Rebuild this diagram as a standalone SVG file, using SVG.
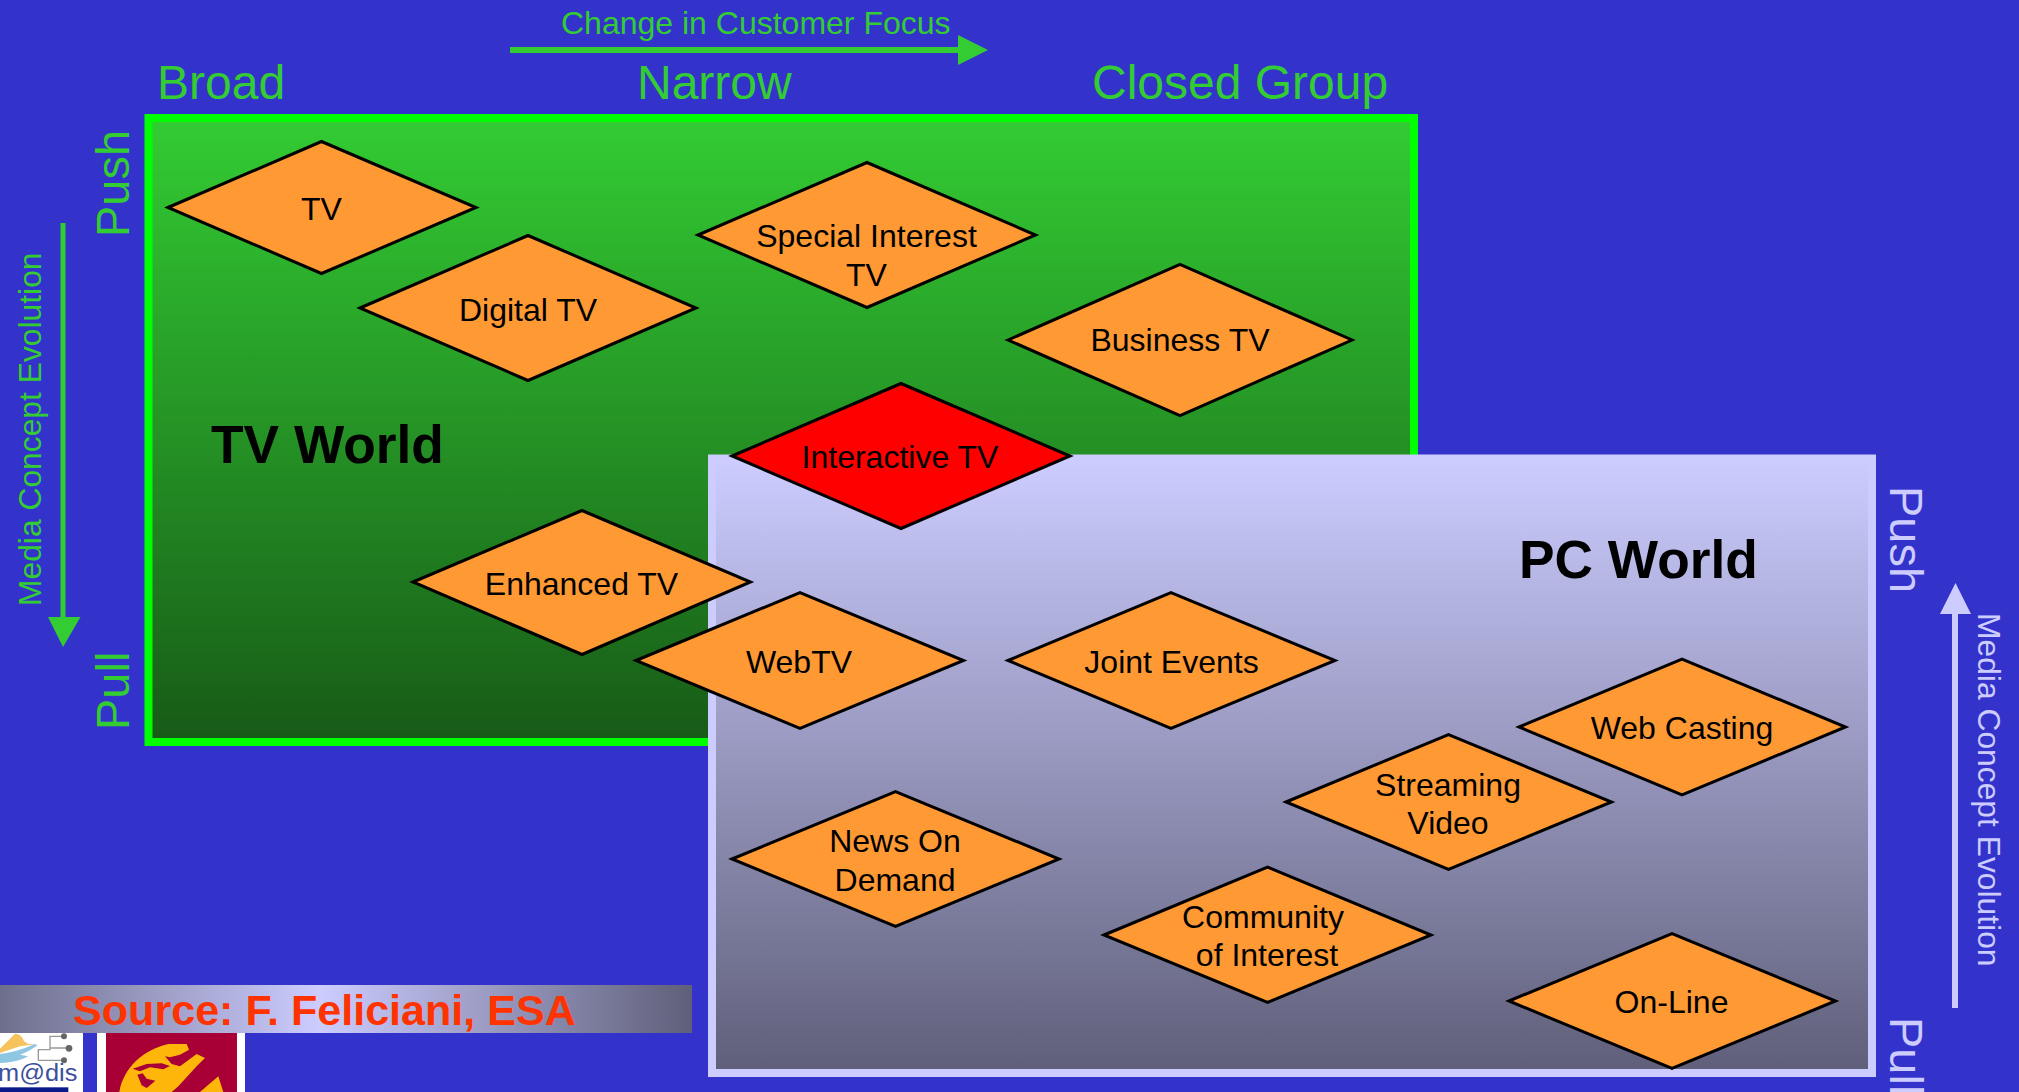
<svg xmlns="http://www.w3.org/2000/svg" width="2019" height="1092" viewBox="0 0 2019 1092">
<style>
text{font-family:"Liberation Sans",Arial,sans-serif}
.d{fill:#ff9933;stroke:#000;stroke-width:3;stroke-linejoin:miter}
.l{font-size:32px;fill:#000;text-anchor:middle}
.g{fill:#33cc33}
.p{fill:#ccccff}
.h{font-size:48px}
.r{font-size:47px}
.m{font-size:31.800px}
.t{font-size:53.300px;font-weight:bold;fill:#000}
</style>
<defs>
<linearGradient id="gg" x1="0" y1="0" x2="0" y2="1"><stop offset="0" stop-color="#33cc33"/><stop offset="1" stop-color="#175a17"/></linearGradient>
<linearGradient id="pg" x1="0" y1="0" x2="0" y2="1"><stop offset="0" stop-color="#ccccff"/><stop offset="1" stop-color="#5f5f7a"/></linearGradient>
<linearGradient id="sg" gradientUnits="userSpaceOnUse" x1="-52" y1="0" x2="692" y2="0"><stop offset="0" stop-color="#5f5f7a"/><stop offset=".5" stop-color="#ccccff"/><stop offset="1" stop-color="#5f5f7a"/></linearGradient>
</defs>
<rect width="2019" height="1092" fill="#3333cc"/>
<g id="tv-world"><rect x="148.500" y="118" width="1265.500" height="624" fill="url(#gg)" stroke="#00ff00" stroke-width="8"/>
<text class="t" x="211" y="463">TV World</text></g>
<g id="pc-world"><rect x="712" y="458.500" width="1160" height="614.500" fill="url(#pg)" stroke="#ccccff" stroke-width="8"/>
<text class="t" x="1519" y="578">PC World</text></g>
<g id="connectors">
<path class="g" d="M510 47h448v-12l30 15-30 15v-12H510z"/>
<path class="g" d="M60.500 223h5v394h15l-17.500 30-15-30h12.500z"/>
<path class="p" d="M1952 1008V614h-12l15.500-31 15.500 31h-13v394z"/>
</g>
<g id="labels-top">
<text class="g" x="561" y="34" font-size="32">Change in Customer Focus</text>
<text class="g h" x="157" y="99">Broad</text>
<text class="g h" x="637" y="99">Narrow</text>
<text class="g h" x="1092" y="99">Closed Group</text>
</g>
<g id="labels-left">
<text class="g r" transform="translate(129 237) rotate(-90)">Push</text>
<text class="g r" transform="translate(129 730) rotate(-90)">Pull</text>
<text class="g m" transform="translate(41 606) rotate(-90)">Media Concept Evolution</text>
</g>
<g id="labels-right">
<text class="p r" transform="translate(1890 486) rotate(90)">Push</text>
<text class="p r" transform="translate(1890 1017) rotate(90)">Pull</text>
<text class="p m" transform="translate(1978 613) rotate(90)">Media Concept Evolution</text>
</g>
<g id="n-tv"><polygon class="d" points="168,207.500 321.500,141.500 476,207.500 321.500,273.500"/><text class="l" x="321.500" y="220">TV</text></g>
<g id="n-digital"><polygon class="d" points="360,308 528,235.500 696,308 528,380.500"/><text class="l" x="528" y="321">Digital TV</text></g>
<g id="n-special"><polygon class="d" points="698,235 867,162.500 1035.500,235 867,307.500"/><text class="l" x="866.500" y="247">Special Interest</text><text class="l" x="866.500" y="286">TV</text></g>
<g id="n-business"><polygon class="d" points="1008,340 1180,264.500 1352,340 1180,415.500"/><text class="l" x="1180" y="351">Business TV</text></g>
<g id="n-enhanced"><polygon class="d" points="413,582 582,510.500 750.500,582 582,654.500"/><text class="l" x="581.500" y="595">Enhanced TV</text></g>
<g id="n-interactive"><polygon class="d" points="732,456 901,383.500 1070,456 901,528.500" style="fill:#ff0000"/><text class="l" x="900" y="468">Interactive TV</text></g>
<g id="n-webtv"><polygon class="d" points="636,660.500 800,592.500 963.500,660.500 800,728.500"/><text class="l" x="799" y="673">WebTV</text></g>
<g id="n-joint"><polygon class="d" points="1008,660.500 1171,592.500 1335,660.500 1171,728.500"/><text class="l" x="1171.500" y="673">Joint Events</text></g>
<g id="n-webcasting"><polygon class="d" points="1519,727 1682,659 1845.500,727 1682,795"/><text class="l" x="1682" y="739">Web Casting</text></g>
<g id="n-streaming"><polygon class="d" points="1286,802 1448.500,734.500 1611.500,802 1448.500,869.500"/><text class="l" x="1448" y="796">Streaming</text><text class="l" x="1448" y="834">Video</text></g>
<g id="n-news"><polygon class="d" points="732,859 895.500,791.500 1059,859 895.500,926.500"/><text class="l" x="895" y="852">News On</text><text class="l" x="895" y="891">Demand</text></g>
<g id="n-community"><polygon class="d" points="1104,935 1267.500,867 1431,935 1267.500,1002.500"/><text class="l" x="1263" y="928">Community</text><text class="l" x="1267" y="966">of Interest</text></g>
<g id="n-online"><polygon class="d" points="1509,1001 1672,933.500 1835.500,1001 1672,1068.500"/><text class="l" x="1671.500" y="1013">On-Line</text></g>
<g id="logo-medis" transform="translate(0 1028) scale(.3333)">
<rect x="0" y="15" width="249" height="177" fill="#fff"/>
<path d="M0 62 L45 17 Q65 18 72 40 L85 48 L110 48 L60 55 L15 70 L0 75z" fill="#f7c35c"/>
<path d="M0 78 Q50 72 105 48 L112 52 Q90 70 60 80 L85 85 Q50 105 0 105z" fill="#8fc6e2"/>
<path d="M115 98V65H150V25H185M150 60H200M115 97H185" fill="none" stroke="#999" stroke-width="4"/>
<circle cx="192" cy="25" r="9" fill="#666"/><circle cx="207" cy="61" r="10" fill="#666"/><circle cx="192" cy="97" r="9" fill="#666"/>
<text x="-6" y="160" font-size="72" fill="#3d4f9c" textLength="238" lengthAdjust="spacingAndGlyphs">m@dis</text>
<rect x="0" y="178" width="205" height="14" fill="#0a1a8a"/>
</g>
<g id="logo-globe" transform="translate(90 1028) scale(.3333)">
<rect x="21" y="15" width="444" height="177" fill="#fff"/>
<rect x="48" y="15" width="393" height="177" fill="#a80036"/>
<path d="M88 192C100 120 160 65 235 48L290 48L297 65L270 80L240 88L225 85L245 108L270 115L320 78L345 90L320 115L265 175L245 192z" fill="#ffb60a"/>
<path d="M128 122L170 108L215 106L240 114L220 124L180 118L150 130z" fill="#a80036"/>
<path d="M142 140L158 136L170 152L196 158L182 170L170 180L155 172z" fill="#a80036"/>
<path d="M330 192L385 145L400 192z" fill="#ffb60a"/>
</g>
<g id="source">
<rect x="0" y="985" width="692" height="48" fill="url(#sg)"/>
<text x="73" y="1025" font-size="43.100" font-weight="bold" fill="#ff3300">Source: F. Feliciani, ESA</text>
</g>
</svg>
